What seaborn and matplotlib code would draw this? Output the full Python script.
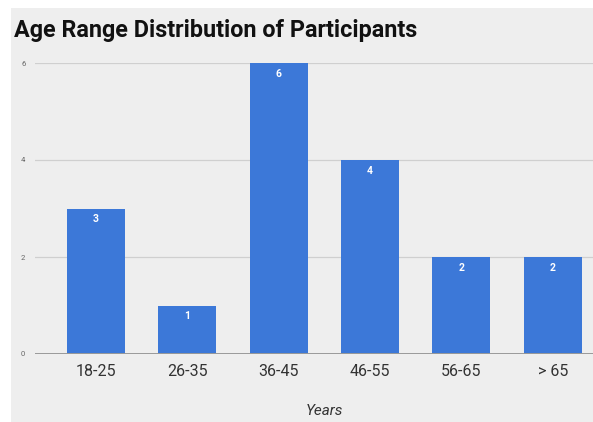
import matplotlib
matplotlib.use("Agg")
import matplotlib.pyplot as plt
from matplotlib.patches import Rectangle
import seaborn as sns
import pandas as pd

age_ranges = ["18-25", "26-35", "36-45", "46-55", "56-65", "> 65"]
participants = [3, 1, 6, 4, 2, 2]
y_ticks = [0, 2, 4, 6]

df = pd.DataFrame({"Age range": age_ranges, "Participants": participants})

W, H = 593, 422
fig = plt.figure(figsize=(W / 100, H / 100), dpi=100, facecolor="white")

# light grey panel behind the chart
fig.patches.append(Rectangle((11 / W, 0), 1 - 11 / W, 1 - 8 / H,
                             transform=fig.transFigure, facecolor="#eeeeee",
                             edgecolor="none", zorder=-10))

ax = fig.add_axes([35 / W, (H - 354) / H, (W - 35) / W, (354 - 63) / H])
ax.set_facecolor("none")

sns.barplot(data=df, x="Age range", y="Participants", color="#3c78d8",
            width=0.635, saturation=1, linewidth=0, ax=ax, zorder=3)

ax.set_ylim(0, 6)
ax.set_xlim(-0.668, 5.44)
ax.set_yticks(y_ticks)
ax.set_yticklabels([str(t) for t in y_ticks], fontsize=5.5, color="#666666",
                   family="Roboto")
ax.tick_params(axis="y", length=0, pad=7)
ax.tick_params(axis="x", length=0, pad=7, labelsize=11.5, labelcolor="#333333")
for lbl in ax.get_xticklabels():
    lbl.set_family("Roboto")

for t in y_ticks[1:]:
    ax.axhline(t, color="#cfcfcf", linewidth=0.9, zorder=1)
ax.axhline(0, color="#999999", linewidth=1.4, zorder=4)

for s in ax.spines.values():
    s.set_visible(False)

for i, v in enumerate(participants):
    ax.text(i, v - 0.12, str(v), ha="center", va="top", color="white",
            fontsize=7.5, fontweight="bold", family="Roboto", zorder=5)

ax.set_ylabel("")
ax.set_xlabel("Years", fontsize=11, style="italic", color="#333333",
              family="Roboto")
ax.xaxis.set_label_coords((324 - 35) / (W - 35), -(404 - 354) / (354 - 63))

fig.text(14 / W, 1 - 31 / H, "Age Range Distribution of Participants",
         fontsize=16.8, fontweight="bold", family="Roboto", color="#111111",
         ha="left", va="center")

fig.savefig("out.png", dpi=100, facecolor="white")
